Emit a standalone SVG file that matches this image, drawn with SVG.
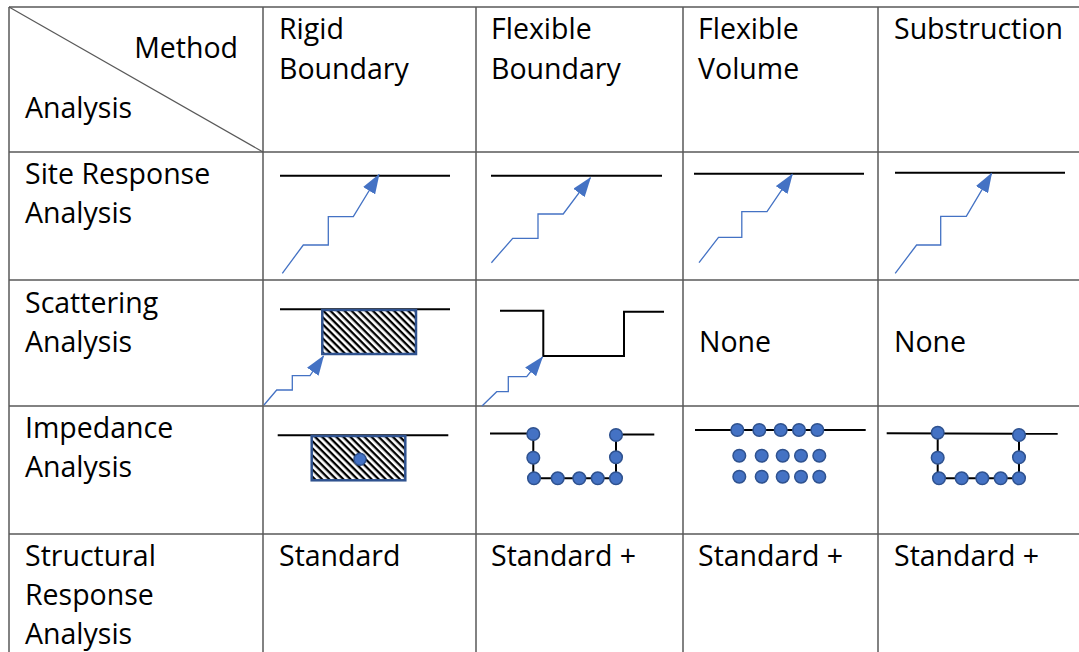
<svg xmlns="http://www.w3.org/2000/svg" width="1079" height="652" viewBox="0 0 1079 652">
<style>
.grid{stroke:#595959;stroke-width:1.5;fill:none}
.t{font-family:"Open Sans","Noto Sans","Liberation Sans",sans-serif;font-size:28.5px;fill:#000}
.ground{stroke:#000;stroke-width:2;fill:none}
.wave{stroke:#4472C4;stroke-width:1.3;fill:none;marker-end:url(#ah)}
.box{fill:url(#hatch);stroke:#2F528F;stroke-width:2.5}
.nd{fill:#4472C4;stroke:#2F528F;stroke-width:1.5}
.lnk{stroke:#000;stroke-width:2;fill:none}
</style>
<defs>
<marker id="ah" viewBox="0 0 20 14" refX="19" refY="7" markerWidth="20" markerHeight="14" markerUnits="userSpaceOnUse" orient="auto">
<path d="M0,0 L20,7 L0,14 z" fill="#4472C4"/>
</marker>
<pattern id="hatch" patternUnits="userSpaceOnUse" width="5" height="5" patternTransform="rotate(45)">
<rect x="0" y="0" width="5" height="5" fill="#fff"/>
<rect x="0" y="0" width="5" height="2.3" fill="#000"/>
</pattern>
</defs>
<rect width="1079" height="652" fill="#fff"/>

<g id="grid" class="grid">
<line x1="9" y1="7" x2="1079" y2="7"/>
<line x1="9" y1="152" x2="1079" y2="152"/>
<line x1="9" y1="280" x2="1079" y2="280"/>
<line x1="9" y1="406" x2="1079" y2="406"/>
<line x1="9" y1="534" x2="1079" y2="534"/>
<line x1="9" y1="7" x2="9" y2="652"/>
<line x1="263" y1="7" x2="263" y2="652"/>
<line x1="476" y1="7" x2="476" y2="652"/>
<line x1="683" y1="7" x2="683" y2="652"/>
<line x1="878" y1="7" x2="878" y2="652"/>
<line x1="9" y1="7" x2="263" y2="152" stroke-width="1.2"/>
</g>

<g id="header">
<text class="t" x="238" y="58" text-anchor="end">Method</text>
<text class="t" x="25" y="118">Analysis</text>
<text class="t" x="279" y="39">Rigid</text>
<text class="t" x="279" y="79">Boundary</text>
<text class="t" x="491" y="39">Flexible</text>
<text class="t" x="491" y="79">Boundary</text>
<text class="t" x="698" y="39">Flexible</text>
<text class="t" x="698" y="79">Volume</text>
<text class="t" x="894" y="39">Substruction</text>
</g>

<g id="row-labels">
<text class="t" x="25" y="184">Site Response</text>
<text class="t" x="25" y="223">Analysis</text>
<text class="t" x="25" y="313">Scattering</text>
<text class="t" x="25" y="352">Analysis</text>
<text class="t" x="25" y="438">Impedance</text>
<text class="t" x="25" y="477">Analysis</text>
<text class="t" x="25" y="566">Structural</text>
<text class="t" x="25" y="605">Response</text>
<text class="t" x="25" y="644">Analysis</text>
</g>

<g id="site-rigid">
<line class="ground" x1="280" y1="175.7" x2="450" y2="175.7"/>
</g>
<g id="site-flexbound">
<line class="ground" x1="491" y1="175.7" x2="662" y2="175.7"/>
</g>
<g id="site-flexvol">
<line class="ground" x1="694" y1="173.7" x2="864" y2="173.7"/>
</g>
<g id="site-subs">
<line class="ground" x1="895" y1="172.7" x2="1065" y2="172.7"/>
</g>

<g id="scat-rigid">
<line class="ground" x1="280" y1="309.3" x2="450" y2="309.3"/>
<rect class="box" x="322.3" y="310" width="93.7" height="44"/>
</g>
<g id="scat-flexbound">
<polyline class="ground" points="500,310.7 543.3,310.7 543.3,356 624,356 624,311.7 664,311.7"/>
</g>
<g id="scat-flexvol">
<text class="t" x="699" y="352">None</text>
</g>
<g id="scat-subs">
<text class="t" x="894" y="352">None</text>
</g>

<g id="imp-rigid">
<line class="ground" x1="277.7" y1="435.3" x2="448.3" y2="435.3"/>
<rect class="box" x="311.7" y="436" width="93.6" height="44.3"/>
<circle class="nd" cx="360" cy="459.3" r="6" stroke="none" fill="#4472C4"/>
</g>

<g id="imp-flexbound">
<line class="lnk" x1="490" y1="433.5" x2="533.3" y2="433.5"/>
<line class="lnk" x1="616" y1="434.5" x2="654.3" y2="434.5"/>
<polyline class="lnk" points="533.3,434 533.3,478.3 616,478.3 616,435"/>
<circle class="nd" cx="533.3" cy="434" r="6.3"/>
<circle class="nd" cx="533.3" cy="457.7" r="6.3"/>
<circle class="nd" cx="534" cy="478.3" r="6.3"/>
<circle class="nd" cx="557.7" cy="478.3" r="6.3"/>
<circle class="nd" cx="579.3" cy="478.3" r="6.3"/>
<circle class="nd" cx="597.7" cy="478.3" r="6.3"/>
<circle class="nd" cx="616" cy="478.3" r="6.3"/>
<circle class="nd" cx="616" cy="457.3" r="6.3"/>
<circle class="nd" cx="616" cy="435" r="6.3"/>
</g>

<g id="imp-flexvol">
<line class="lnk" x1="695" y1="430" x2="865.7" y2="430"/>
<circle class="nd" cx="737.3" cy="430" r="6.3"/>
<circle class="nd" cx="759.3" cy="430" r="6.3"/>
<circle class="nd" cx="780.7" cy="430" r="6.3"/>
<circle class="nd" cx="799" cy="430" r="6.3"/>
<circle class="nd" cx="817.3" cy="430" r="6.3"/>
<circle class="nd" cx="739.3" cy="455.7" r="6.3"/>
<circle class="nd" cx="761.7" cy="455.7" r="6.3"/>
<circle class="nd" cx="782.7" cy="455.7" r="6.3"/>
<circle class="nd" cx="801" cy="455.7" r="6.3"/>
<circle class="nd" cx="819.3" cy="455.7" r="6.3"/>
<circle class="nd" cx="739.3" cy="476.7" r="6.3"/>
<circle class="nd" cx="761.7" cy="476.7" r="6.3"/>
<circle class="nd" cx="782.7" cy="476.7" r="6.3"/>
<circle class="nd" cx="801" cy="476.7" r="6.3"/>
<circle class="nd" cx="819.3" cy="476.7" r="6.3"/>
</g>

<g id="imp-subs">
<line class="lnk" x1="886.7" y1="433.3" x2="1057.7" y2="433.8" stroke-width="2.3"/>
<polyline class="lnk" points="937.7,432.7 937.7,478.3 1019,478.3 1019,435"/>
<circle class="nd" cx="937.7" cy="432.7" r="6.3"/>
<circle class="nd" cx="937.7" cy="457.7" r="6.3"/>
<circle class="nd" cx="939" cy="478.3" r="6.3"/>
<circle class="nd" cx="961.7" cy="478.3" r="6.3"/>
<circle class="nd" cx="982.3" cy="478.3" r="6.3"/>
<circle class="nd" cx="1000.7" cy="478.3" r="6.3"/>
<circle class="nd" cx="1019" cy="478.3" r="6.3"/>
<circle class="nd" cx="1019" cy="457.3" r="6.3"/>
<circle class="nd" cx="1019" cy="435" r="6.3"/>
</g>

<g id="structural">
<text class="t" x="279" y="566">Standard</text>
<text class="t" x="491" y="566">Standard +</text>
<text class="t" x="698" y="566">Standard +</text>
<text class="t" x="894" y="566">Standard +</text>
</g>

<g id="connectors">
<polyline class="wave" points="282.3,273.3 303.3,245 328.3,245 328.3,216.7 353.3,216.7 379,174.5"/>
<polyline class="wave" points="491.4,262.7 512.7,238.3 538,238.3 538,214 563.2,214 590.4,177.7"/>
<polyline class="wave" points="699,262.7 718.5,237.3 741.8,237.3 741.8,211.7 767,211.7 792.3,174.3"/>
<polyline class="wave" points="895.2,273.3 916.6,245 940.7,245 940.7,216.3 966.3,216.3 991.6,173.3"/>
<polyline class="wave" points="264,405 276.7,390 292.3,390 292.3,375.7 310,375.7 323.5,356"/>
<polyline class="wave" points="482,406 496.7,391.7 508.3,391.7 508.3,376.7 526.7,376.7 542.5,357"/>
</g>
</svg>
